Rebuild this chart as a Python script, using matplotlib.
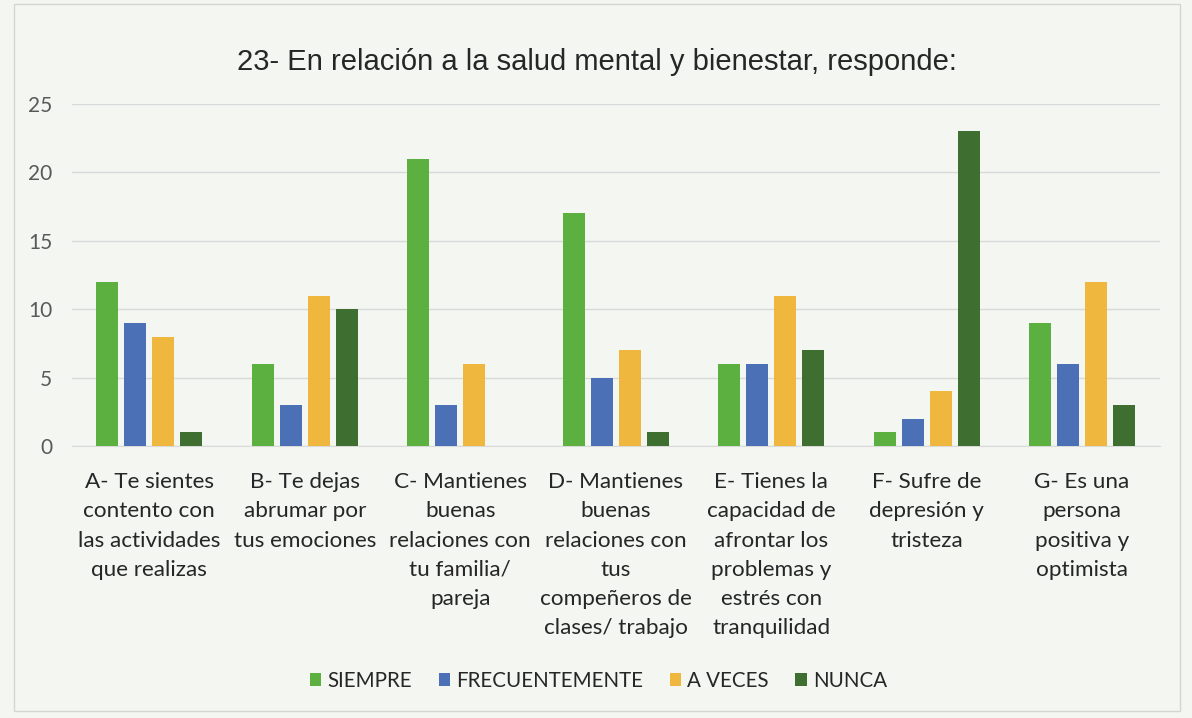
import numpy as np
import matplotlib.pyplot as plt
from matplotlib.patches import Rectangle

# data
categorias = [
    "A- Te sientes\ncontento con\nlas actividades\nque realizas",
    "B- Te dejas\nabrumar por\ntus emociones",
    "C- Mantienes\nbuenas\nrelaciones con\ntu familia/\npareja",
    "D- Mantienes\nbuenas\nrelaciones con\ntus\ncompeñeros de\nclases/ trabajo",
    "E- Tienes la\ncapacidad de\nafrontar los\nproblemas y\nestrés con\ntranquilidad",
    "F- Sufre de\ndepresión y\ntristeza",
    "G- Es una\npersona\npositiva y\noptimista",
]
series = ["SIEMPRE", "FRECUENTEMENTE", "A VECES", "NUNCA"]
siempre = [12, 6, 21, 17, 6, 1, 9]
frecuentemente = [9, 3, 3, 5, 6, 2, 6]
a_veces = [8, 11, 6, 7, 11, 4, 12]
nunca = [1, 10, 0, 1, 7, 23, 3]
yticks = [0, 5, 10, 15, 20, 25]

colores = ["#5cb040", "#4b70b5", "#efb73e", "#3f6f30"]
fondo = "#f4f6f2"

fig = plt.figure(figsize=(11.92, 7.18), dpi=100, facecolor=fondo)
fig.patches.append(Rectangle((0.012, 0.01), 0.978, 0.985, transform=fig.transFigure,
                             fill=False, edgecolor="#d4d6d2", linewidth=1))
ax = fig.add_axes([0.06, 0.379, 0.913, 0.476])
ax.set_facecolor(fondo)

x = np.arange(len(categorias))
ancho = 0.142
paso = 0.18
valores = [siempre, frecuentemente, a_veces, nunca]
barras = []
for i, v in enumerate(valores):
    b = ax.bar(x + (i - 1.5) * paso, v, width=ancho, color=colores[i], label=series[i], zorder=3)
    barras.append(b)

ax.set_xlim(-0.5, len(categorias) - 0.5)
ax.set_ylim(0, 25)
ax.set_yticks(yticks)
ax.yaxis.grid(True, color="#d9d9d9", linewidth=1, zorder=0)
for s in ax.spines.values():
    s.set_visible(False)
ax.spines["bottom"].set_visible(True)
ax.spines["bottom"].set_color("#d9d9d9")
ax.tick_params(axis="both", length=0)
ax.tick_params(axis="y", pad=14, labelcolor="#595959", labelsize=15)
ax.set_xticks(x)
ax.set_xticklabels(categorias, fontsize=16.2, color="#262626", linespacing=1.57,
                   family="Lato")
for t in ax.get_yticklabels():
    t.set_family("Lato")
ax.tick_params(axis="x", pad=19)

fig.text(0.501, 0.914, "23- En relación a la salud mental y bienestar, responde:",
         ha="center", va="center", fontsize=21, color="#262626", family="Liberation Sans")

leg = fig.legend(handles=barras, labels=series, loc="center", bbox_to_anchor=(0.502, 0.052),
                 ncol=4, frameon=False, handlelength=0.55, handleheight=0.55,
                 handletextpad=0.3, columnspacing=1.3, prop={"family": "Lato", "size": 14.8})
for t in leg.get_texts():
    t.set_color("#262626")

fig.savefig("out.png", dpi=100, facecolor=fondo)
